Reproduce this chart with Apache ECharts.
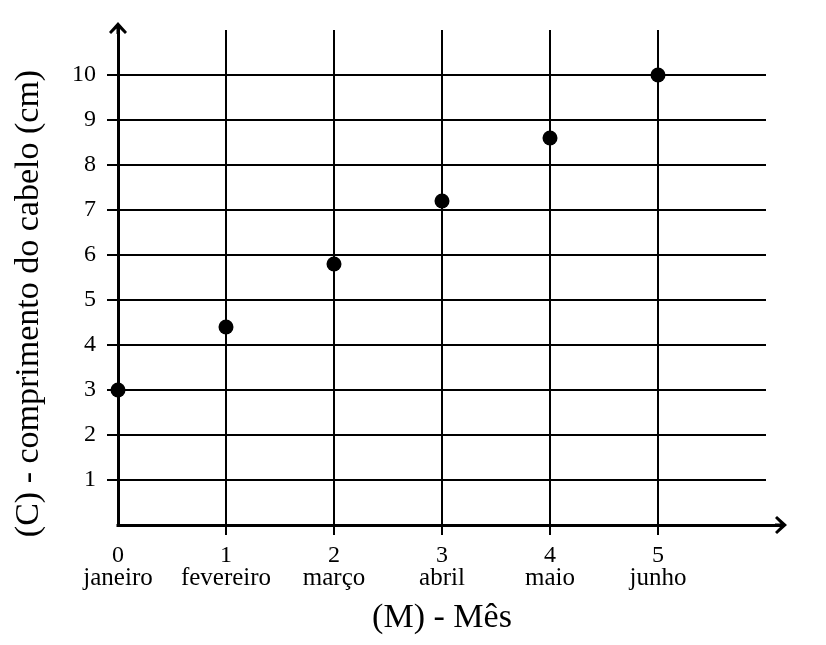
<!DOCTYPE html>
<html>
<head>
<meta charset="utf-8">
<script src="https://cdn.jsdelivr.net/npm/echarts@6/dist/echarts.min.js"></script>
<style>
  html, body { margin: 0; padding: 0; background: #fff; }
  #chart { width: 826px; height: 645px; }
</style>
</head>
<body>
<div id="chart"></div>
<script>
// dados do gráfico
const months = ["janeiro", "fevereiro", "março", "abril", "maio", "junho"];
const monthIndex = [0, 1, 2, 3, 4, 5];
const hairLength = [3, 4.4, 5.8, 7.2, 8.6, 10];
const xTicks = [1, 2, 3, 4, 5];
const yTicks = [1, 2, 3, 4, 5, 6, 7, 8, 9, 10];

const serif = "'Liberation Serif', 'DejaVu Serif', serif";
// seta aberta (chevron) com um pequeno trecho de haste
const arrowPath = "path://M9,0 L18,10 L16,12 L9,5 L2,12 L0,10 Z M7.5,3 L10.5,3 L10.5,12 L7.5,12 Z";

const chart = echarts.init(document.getElementById("chart"));

const option = {
    animation: false,
    backgroundColor: "#fff",
    grid: [
        { left: 118, right: 60, top: 30, bottom: 120 },
        { left: 118, right: 45, top: 28, bottom: 120 }
    ],
    xAxis: [
        {
            type: "value",
            gridIndex: 0,
            min: 0,
            max: 6,
            interval: 1,
            name: "(M) - Mês",
            nameLocation: "middle",
            nameGap: 76,
            nameTextStyle: { fontFamily: serif, fontSize: 34, color: "#000", lineHeight: 34 },
            axisLine: { show: false },
            axisTick: {
                show: true,
                customValues: xTicks,
                length: 10,
                lineStyle: { color: "#000", width: 2 }
            },
            axisLabel: {
                customValues: monthIndex,
                margin: 20,
                formatter: v => "{n|" + v + "}\n{m|" + months[v] + "}",
                rich: {
                    n: { fontFamily: serif, fontSize: 24, color: "#000", lineHeight: 22, align: "center" },
                    m: { fontFamily: serif, fontSize: 25, color: "#000", lineHeight: 22, align: "center" }
                }
            },
            splitLine: { show: true, lineStyle: { color: "#000", width: 2 } }
        },
        {
            type: "value",
            gridIndex: 1,
            min: 0,
            max: 1,
            axisLine: {
                show: true,
                symbol: ["none", arrowPath],
                symbolSize: [18, 12],
                lineStyle: { color: "#000", width: 3, cap: "square" }
            },
            axisTick: { show: false },
            axisLabel: { show: false },
            splitLine: { show: false }
        }
    ],
    yAxis: [
        {
            type: "value",
            gridIndex: 0,
            min: 0,
            max: 11,
            interval: 1,
            name: "(C) - comprimento do cabelo (cm)",
            nameLocation: "middle",
            nameGap: 72,
            nameTextStyle: {
                fontFamily: serif, fontSize: 34, color: "#000", lineHeight: 34,
                padding: [0, 52, 0, 0]
            },
            axisLine: { show: false },
            axisTick: {
                show: true,
                customValues: yTicks,
                length: 11,
                lineStyle: { color: "#000", width: 2 }
            },
            axisLabel: {
                customValues: yTicks,
                margin: 22,
                fontFamily: serif,
                fontSize: 24,
                color: "#000"
            },
            splitLine: { show: true, lineStyle: { color: "#000", width: 2 } }
        },
        {
            type: "value",
            gridIndex: 1,
            min: 0,
            max: 1,
            axisLine: {
                show: true,
                symbol: ["none", arrowPath],
                symbolSize: [18, 12],
                lineStyle: { color: "#000", width: 3, cap: "square" }
            },
            axisTick: { show: false },
            axisLabel: { show: false },
            splitLine: { show: false }
        }
    ],
    series: [
        {
            type: "scatter",
            xAxisIndex: 0,
            yAxisIndex: 0,
            symbol: "circle",
            symbolSize: 15,
            clip: false,
            z: 10,
            itemStyle: { color: "#000", opacity: 1 },
            data: monthIndex.map((m, i) => [m, hairLength[i]])
        }
    ]
};

chart.setOption(option);
</script>
</body>
</html>
